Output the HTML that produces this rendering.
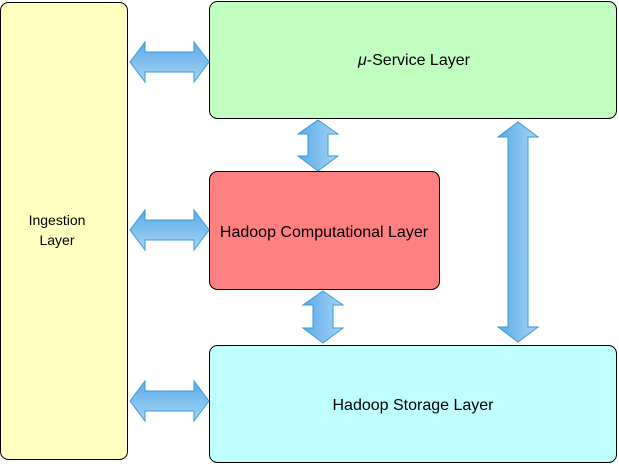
<!DOCTYPE html>
<html><head><style>
html,body{margin:0;padding:0;background:#fff;}
svg{display:block;}
text{font-family:"Liberation Sans",sans-serif;font-size:16px;fill:#000;}
</style></head><body>
<svg width="619" height="469" xmlns="http://www.w3.org/2000/svg">
<defs>
<linearGradient id="gh" x1="0" y1="0" x2="0" y2="1"><stop offset="0" stop-color="#5aaae6"/><stop offset="1" stop-color="#a6d4f6"/></linearGradient>
<linearGradient id="gv" x1="0" y1="0" x2="1" y2="0"><stop offset="0" stop-color="#5aaae6"/><stop offset="1" stop-color="#a6d4f6"/></linearGradient>
</defs>
<rect x="0.5" y="2.5" width="127" height="457" rx="8" fill="#ffffc0" stroke="#000"/>
<rect x="209.5" y="1.5" width="407" height="117" rx="8" fill="#c0ffc0" stroke="#000"/>
<rect x="209.5" y="171.5" width="230" height="118" rx="8" fill="#ff8080" stroke="#000"/>
<rect x="209.5" y="345.5" width="407" height="117" rx="8" fill="#c0ffff" stroke="#000"/>
<text x="57" y="225" text-anchor="middle" style="font-size:14px">Ingestion</text>
<text x="57" y="245" text-anchor="middle" style="font-size:14px">Layer</text>
<text x="414" y="65" text-anchor="middle"><tspan font-style="italic">μ</tspan>-Service Layer</text>
<text x="324" y="237" text-anchor="middle">Hadoop Computational Layer</text>
<text x="413" y="410" text-anchor="middle">Hadoop Storage Layer</text>
<g stroke="#3a9ad9" stroke-width="1">
<polygon fill="url(#gh)" points="130,62 145,42 145,52 194,52 194,42 209,62 194,82 194,72 145,72 145,82"/>
<polygon fill="url(#gh)" points="130,230 145,210 145,220 194,220 194,210 209,230 194,250 194,240 145,240 145,250"/>
<polygon fill="url(#gh)" points="130,401 145,381 145,391 194,391 194,381 209,401 194,421 194,411 145,411 145,421"/>
<polygon fill="url(#gv)" points="318,120 338,134 328,134 328,156 338,156 318,171 298,156 308,156 308,134 298,134"/>
<polygon fill="url(#gv)" points="323,291 343,305 333,305 333,328 343,328 323,343 303,328 313,328 313,305 303,305"/>
<polygon fill="url(#gv)" points="518,122 538,137 528,137 528,327 538,327 518,342 498,327 508,327 508,137 498,137"/>
</g>
</svg>
</body></html>
